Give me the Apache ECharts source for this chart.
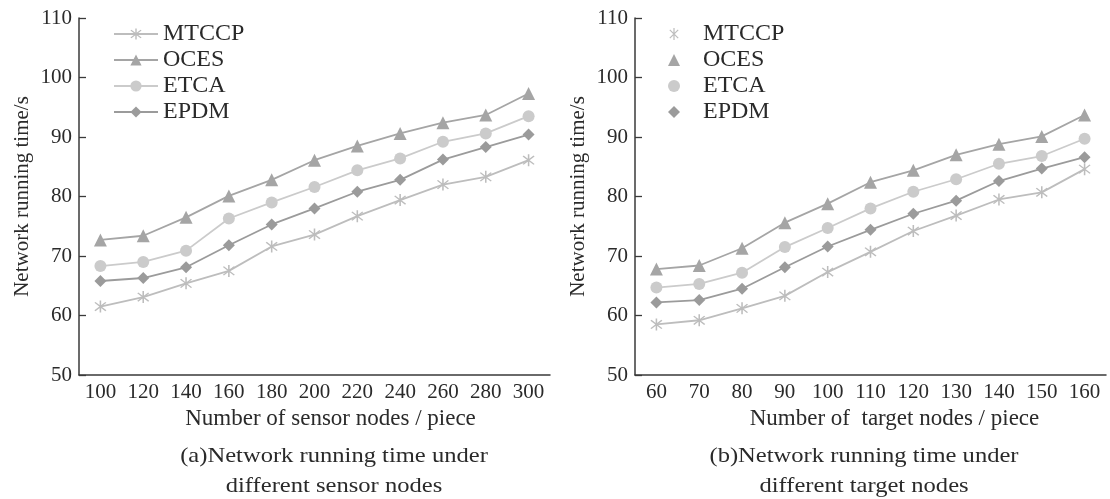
<!DOCTYPE html>
<html>
<head>
<meta charset="utf-8">
<script src="https://cdn.jsdelivr.net/npm/echarts@6/dist/echarts.min.js"></script>
<style>html,body{margin:0;padding:0;background:#fff}#c{width:1110px;height:499px}</style>
</head>
<body>
<div id="c"></div>
<script>
const seriesNames = ['MTCCP', 'OCES', 'ETCA', 'EPDM'];
const sensorNodes = ['100','120','140','160','180','200','220','240','260','280','300'];
const targetNodes = ['60','70','80','90','100','110','120','130','140','150','160'];
const yTicks = [50, 60, 70, 80, 90, 100, 110];

const sensorMTCCP = [61.5, 63.1, 65.4, 67.5, 71.6, 73.6, 76.7, 79.4, 82.0, 83.3, 86.1];
const sensorOCES  = [72.7, 73.4, 76.5, 80.1, 82.8, 86.1, 88.5, 90.6, 92.4, 93.7, 97.3];
const sensorETCA  = [68.3, 69.0, 70.9, 76.3, 79.0, 81.6, 84.4, 86.4, 89.2, 90.6, 93.5];
const sensorEPDM  = [65.8, 66.3, 68.1, 71.8, 75.3, 78.0, 80.8, 82.8, 86.2, 88.3, 90.4];

const targetMTCCP = [58.5, 59.2, 61.2, 63.3, 67.3, 70.7, 74.2, 76.8, 79.5, 80.7, 84.6];
const targetOCES  = [67.8, 68.4, 71.3, 75.6, 78.8, 82.4, 84.4, 87.0, 88.8, 90.1, 93.7];
const targetETCA  = [64.7, 65.3, 67.2, 71.5, 74.7, 78.0, 80.8, 82.9, 85.5, 86.8, 89.7];
const targetEPDM  = [62.2, 62.6, 64.5, 68.1, 71.6, 74.4, 77.1, 79.3, 82.6, 84.7, 86.6];

const FONT = '"Liberation Serif", "Times New Roman", serif';
const TXT = '#2a2a2a';
const AX = '#3a3a3a';
const asterisk = 'path://M9,0L11,0L11,20L9,20Z M2.3,3.7L3.7,2.3L17.7,16.3L16.3,17.7Z M16.3,2.3L17.7,3.7L3.7,17.7L2.3,16.3Z';
const styles = {
  MTCCP: {color: '#bdbdbd', symbol: asterisk, size: 12},
  OCES:  {color: '#a5a5a5', symbol: 'triangle', size: 13},
  ETCA:  {color: '#cbcbcb', symbol: 'circle', size: 12},
  EPDM:  {color: '#9b9b9b', symbol: 'diamond', size: 12}
};
const sensorData = {MTCCP: sensorMTCCP, OCES: sensorOCES, ETCA: sensorETCA, EPDM: sensorEPDM};
const targetData = {MTCCP: targetMTCCP, OCES: targetOCES, ETCA: targetETCA, EPDM: targetEPDM};

function mkX(cats, idx, name, pad) {
  return {
    type: 'category', gridIndex: idx, data: cats, boundaryGap: true,
    name: name, nameLocation: 'middle', nameGap: 32,
    nameTextStyle: {fontFamily: FONT, fontSize: 23, color: TXT, padding: pad},
    axisLine: {lineStyle: {color: AX, width: 1.5}},
    axisTick: {inside: true, length: 7, lineStyle: {color: AX, width: 1.3}},
    axisLabel: {fontFamily: FONT, fontSize: 21, color: TXT, margin: 7, interval: 0},
    splitLine: {show: false}
  };
}
function mkY(idx) {
  return {
    type: 'value', gridIndex: idx, min: yTicks[0], max: yTicks[yTicks.length - 1], interval: 10,
    name: 'Network running time/s', nameLocation: 'middle', nameGap: 46, nameRotate: 90,
    nameTextStyle: {fontFamily: FONT, fontSize: 21, color: TXT},
    axisLine: {show: true, lineStyle: {color: AX, width: 1.5}},
    axisTick: {show: true, inside: true, length: 7, lineStyle: {color: AX, width: 1.3}},
    axisLabel: {fontFamily: FONT, fontSize: 21, color: TXT, margin: 7},
    splitLine: {show: false}
  };
}
const series = [];
[sensorData, targetData].forEach((d, gi) => {
  seriesNames.forEach(n => {
    const s = styles[n];
    series.push({
      name: n, type: 'line', xAxisIndex: gi, yAxisIndex: gi, data: d[n],
      symbol: s.symbol, symbolSize: s.size, showAllSymbol: true,
      itemStyle: {color: s.color}, lineStyle: {color: s.color, width: 1.8},
      animation: false
    });
  });
});

const chart = echarts.init(document.getElementById('c'), null, {renderer: 'canvas'});
chart.setOption({
  backgroundColor: '#fff',
  animation: false,
  grid: [
    {left: 79, right: 560, top: 18, bottom: 124, containLabel: false},
    {left: 635, right: 4, top: 18, bottom: 124, containLabel: false}
  ],
  xAxis: [
    mkX(sensorNodes, 0, 'Number of sensor nodes / piece', [0, 0, 0, 32]),
    mkX(targetNodes, 1, 'Number of  target nodes / piece', [0, 0, 0, 48])
  ],
  yAxis: [mkY(0), mkY(1)],
  legend: [
    {
      left: 113, top: 22, padding: 0, orient: 'vertical', itemWidth: 44, itemHeight: 14, itemGap: 2,
      textStyle: {fontFamily: FONT, fontSize: 24, color: TXT, lineHeight: 22},
      data: seriesNames
    },
    {
      left: 668, top: 22, padding: 0, orient: 'vertical', itemWidth: 12, itemHeight: 12, itemGap: 2,
      textStyle: {fontFamily: FONT, fontSize: 24, color: TXT, lineHeight: 22, padding: [0, 0, 0, 18]},
      data: seriesNames.map(n => ({name: n, icon: styles[n].symbol}))
    }
  ],
  graphic: [
    {type: 'text', x: 334, y: 471, scaleX: 1.17, style: {text: '(a)Network running time under\ndifferent sensor nodes', font: '21px ' + FONT, fill: TXT, textAlign: 'center', textVerticalAlign: 'middle', lineHeight: 30}},
    {type: 'text', x: 864, y: 471, scaleX: 1.17, style: {text: '(b)Network running time under\ndifferent target nodes', font: '21px ' + FONT, fill: TXT, textAlign: 'center', textVerticalAlign: 'middle', lineHeight: 30}}
  ],
  series: series
});
</script>
</body>
</html>
